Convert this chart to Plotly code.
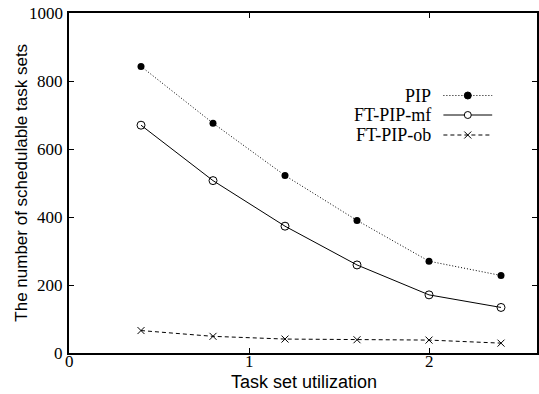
import plotly.graph_objects as go

utilization = [0.4, 0.8, 1.2, 1.6, 2.0, 2.4]
pip = [843, 676, 522, 390, 270, 228]
ft_pip_mf = [670, 507, 373, 259, 171, 134]
ft_pip_ob = [66, 49, 41, 39, 38, 29]
series_names = ["PIP", "FT-PIP-mf", "FT-PIP-ob"]
x_ticks = [0, 1, 2]
y_ticks = [0, 200, 400, 600, 800, 1000]
x_title = "Task set utilization"
y_title = "The number of schedulable task sets"

SERIF = "Liberation Serif"
SANS = "Liberation Sans"

W, H = 539, 394
ML, MR, MT, MB = 69, 0, 13, 41
PW, PH = W - ML - MR, H - MT - MB

def px_x(p):
    return (p - ML) / PW

def px_y(p):
    return (H - MB - p) / PH

fig = go.Figure()
styles = [
    dict(line=dict(color="black", width=1, dash="1px,2px"),
         marker=dict(symbol="circle", size=7, color="black")),
    dict(line=dict(color="black", width=1),
         marker=dict(symbol="circle-open", size=8, color="black", line=dict(width=1))),
    dict(line=dict(color="black", width=1, dash="4px,3px"),
         marker=dict(symbol="x-thin-open", size=7, color="black", line=dict(width=1, color="black"))),
]
for name, vals, st in zip(series_names, [pip, ft_pip_mf, ft_pip_ob], styles):
    fig.add_trace(go.Scatter(x=utilization, y=vals, mode="lines+markers", name=name,
                             showlegend=False, **st))

# custom legend (text right, sample on the right)
legend_rows = [95.5, 115, 135]
shapes = []
annotations = []
dashes = ["1px,2px", "solid", "4px,3px"]
for i, (name, yy) in enumerate(zip(series_names, legend_rows)):
    annotations.append(dict(x=px_x(435), y=px_y(yy), xref="paper", yref="paper",
                            text=name, showarrow=False, xanchor="right", yanchor="middle",
                            font=dict(family=SERIF, size=18, color="black")))
    shapes.append(dict(type="line", xref="paper", yref="paper",
                       x0=px_x(445), x1=px_x(494), y0=px_y(yy), y1=px_y(yy),
                       line=dict(color="black", width=1, dash=dashes[i])))
    cx, cy = px_x(469.5), px_y(yy)
    if i < 2:
        shapes.append(dict(type="circle", xref="paper", yref="paper",
                           xsizemode="pixel", ysizemode="pixel", xanchor=cx, yanchor=cy,
                           x0=-3.5, x1=3.5, y0=-3.5, y1=3.5,
                           fillcolor="black" if i == 0 else "white",
                           line=dict(color="black", width=1)))
    else:
        for a, b in [(-3.5, 3.5), (3.5, -3.5)]:
            shapes.append(dict(type="line", xref="paper", yref="paper",
                               xsizemode="pixel", ysizemode="pixel", xanchor=cx, yanchor=cy,
                               x0=-3.5, x1=3.5, y0=a, y1=b,
                               line=dict(color="black", width=1)))

# tick labels as annotations tied to the axes
for v in x_ticks:
    annotations.append(dict(x=v, y=px_y(362), xref="x", yref="paper", text=str(v),
                            showarrow=False, xanchor="center", yanchor="middle",
                            font=dict(family=SERIF, size=17, color="black")))
for v in y_ticks:
    annotations.append(dict(x=px_x(64.5), y=v, xref="paper", yref="y", text=str(v),
                            showarrow=False, xanchor="right", yanchor="middle",
                            font=dict(family=SERIF, size=17, color="black")))

# axis titles placed as annotations
annotations.append(dict(x=px_x(305), y=px_y(382), xref="paper", yref="paper",
                        text=x_title, showarrow=False, xanchor="center", yanchor="middle",
                        font=dict(family=SANS, size=18, color="black")))
annotations.append(dict(x=px_x(21), y=px_y(182.5), xref="paper", yref="paper",
                        text=y_title, showarrow=False, xanchor="center", yanchor="middle",
                        textangle=-90,
                        font=dict(family=SANS, size=17, color="black")))

fig.update_layout(
    width=W, height=H,
    margin=dict(l=ML, r=MR, t=MT, b=MB),
    paper_bgcolor="white", plot_bgcolor="white",
    shapes=shapes, annotations=annotations,
    showlegend=False,
)
fig.update_xaxes(range=[0, 2.6], tickvals=x_ticks, showticklabels=False,
                 ticks="inside", ticklen=5, tickwidth=1, tickcolor="black",
                 showline=True, linecolor="black", linewidth=1.5, mirror="ticks",
                 showgrid=False, zeroline=False)
fig.update_yaxes(range=[0, 1000], tickvals=y_ticks, showticklabels=False,
                 ticks="inside", ticklen=5, tickwidth=1, tickcolor="black",
                 showline=True, linecolor="black", linewidth=1.5, mirror="ticks",
                 showgrid=False, zeroline=False)

fig.write_html("out.html")
